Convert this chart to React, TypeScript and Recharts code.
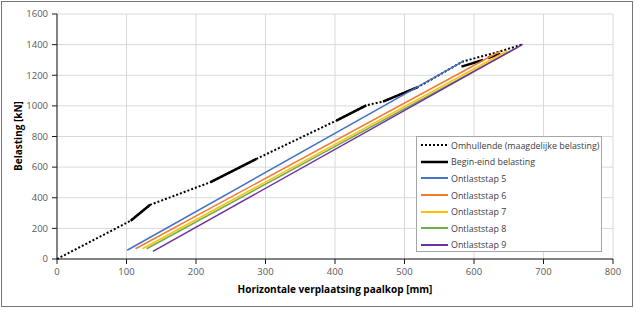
import React from 'react'
import {
    LineChart,
    Line,
    XAxis,
    YAxis,
    CartesianGrid,
    Legend,
} from 'recharts'

// axes
const xTicks = [0, 100, 200, 300, 400, 500, 600, 700, 800]
const yTicks = [0, 200, 400, 600, 800, 1000, 1200, 1400, 1600]

// omhullende (maagdelijke belasting)
const omhullendeX = [0, 106, 134, 221, 287, 402, 445, 469, 519, 584, 637, 670]
const omhullendeY = [0, 250, 354, 502, 654, 904, 1004, 1028, 1122, 1290, 1355, 1402]

// begin-eind belasting, one segment per load step
const beginX = [106, 221, 402, 469, 582, 620]
const beginY = [250, 502, 904, 1028, 1256, 1313]
const eindX = [134, 287, 445, 519, 613, 638]
const eindY = [354, 654, 1004, 1122, 1300, 1340]

// ontlaststappen
const stapNamen = ['Ontlaststap 5', 'Ontlaststap 6', 'Ontlaststap 7', 'Ontlaststap 8', 'Ontlaststap 9']
const stapTopX = [584, 637, 648, 664, 670]
const stapTopY = [1290, 1355, 1360, 1385, 1402]
const stapEindX = [101, 113, 123, 129, 138]
const stapEindY = [57, 67, 67, 67, 50]
const stapKleuren = ['#4472C4', '#ED7D31', '#FFC000', '#70AD47', '#7030A0']

const omhullendeData = omhullendeX.map((x, i) => ({ x, y: omhullendeY[i] }))

const beginEindData: { x: number; y: number | null }[] = []
beginX.forEach((x, i) => {
    beginEindData.push({ x, y: beginY[i] })
    beginEindData.push({ x: eindX[i], y: eindY[i] })
    beginEindData.push({ x: eindX[i], y: null })
})

const stapData = stapNamen.map((_, i) => [
    { x: stapEindX[i], y: stapEindY[i] },
    { x: stapTopX[i], y: stapTopY[i] },
])

const font = '"Open Sans", sans-serif'
const tickStyle = { fontSize: 9.5, fill: '#595959', fontFamily: font }

const legendItems = [
    { name: 'Omhullende (maagdelijke belasting)', color: '#000', width: 2, dash: '2 2' },
    { name: 'Begin-eind belasting', color: '#000', width: 2.5, dash: undefined },
    ...stapNamen.map((name, i) => ({ name, color: stapKleuren[i], width: 2, dash: undefined })),
]

function LegendBox() {
    return (
        <div
            style={{
                width: 186,
                height: 116,
                border: '1px solid #a6a6a6',
                background: '#fff',
                boxSizing: 'border-box',
                paddingTop: 0,
                fontFamily: font,
                fontSize: 8.9,
                color: '#404040',
            }}
        >
            {legendItems.map((item) => (
                <div
                    key={item.name}
                    style={{ display: 'flex', alignItems: 'center', height: 16.6 }}
                >
                    <svg width={34} height={6} style={{ flex: 'none' }}>
                        <line
                            x1={4}
                            x2={31}
                            y1={3}
                            y2={3}
                            stroke={item.color}
                            strokeWidth={item.width}
                            strokeDasharray={item.dash}
                        />
                    </svg>
                    <span style={{ whiteSpace: 'nowrap' }}>{item.name}</span>
                </div>
            ))}
        </div>
    )
}

export default function App() {
    return (
        <div style={{ position: 'absolute', left: 0, top: 0, width: 635, height: 310, background: '#fff' }}>
            <div
                style={{
                    position: 'absolute',
                    left: 1,
                    top: 1,
                    width: 632,
                    height: 306,
                    border: '1px solid #767676',
                    boxSizing: 'border-box',
                }}
            />
            <LineChart
                width={635}
                height={310}
                margin={{ top: 14, right: 22, left: 0, bottom: 21 }}
            >
                <CartesianGrid stroke="#d9d9d9" strokeWidth={1} />
                <XAxis
                    dataKey="x"
                    type="number"
                    domain={[0, 800]}
                    ticks={xTicks}
                    interval={0}
                    height={30}
                    tickSize={5}
                    tickMargin={4}
                    stroke="#1a1a1a"
                    tick={tickStyle}
                    allowDuplicatedCategory={false}
                />
                <YAxis
                    type="number"
                    domain={[0, 1600]}
                    ticks={yTicks}
                    interval={0}
                    width={57}
                    tickSize={5}
                    tickMargin={4}
                    stroke="#1a1a1a"
                    tick={tickStyle}
                />
                <Legend
                    verticalAlign="middle"
                    align="center"
                    content={() => <LegendBox />}
                    wrapperStyle={{ left: 416, top: 136, width: 186, height: 116 }}
                />
                <Line
                    data={omhullendeData}
                    dataKey="y"
                    name="Omhullende (maagdelijke belasting)"
                    stroke="#000"
                    strokeWidth={2}
                    strokeDasharray="2 2"
                    dot={false}
                    activeDot={false}
                    isAnimationActive={false}
                />
                <Line
                    data={beginEindData}
                    dataKey="y"
                    name="Begin-eind belasting"
                    stroke="#000"
                    strokeWidth={2.5}
                    dot={false}
                    activeDot={false}
                    connectNulls={false}
                    isAnimationActive={false}
                />
                {stapData.map((d, i) => (
                    <Line
                        key={stapNamen[i]}
                        data={d}
                        dataKey="y"
                        name={stapNamen[i]}
                        stroke={stapKleuren[i]}
                        strokeWidth={1.5}
                        dot={false}
                        activeDot={false}
                        isAnimationActive={false}
                    />
                ))}
            </LineChart>
            <div
                style={{
                    position: 'absolute',
                    left: 18,
                    top: 136,
                    transform: 'translate(-50%, -50%) rotate(-90deg)',
                    fontFamily: font,
                    fontSize: 10,
                    fontWeight: 700,
                    color: '#000',
                    whiteSpace: 'nowrap',
                }}
            >
                Belasting [kN]
            </div>
            <div
                style={{
                    position: 'absolute',
                    left: 335,
                    top: 289,
                    transform: 'translate(-50%, -50%)',
                    fontFamily: font,
                    fontSize: 10,
                    fontWeight: 700,
                    color: '#000',
                    whiteSpace: 'nowrap',
                }}
            >
                Horizontale verplaatsing paalkop [mm]
            </div>
        </div>
    )
}
